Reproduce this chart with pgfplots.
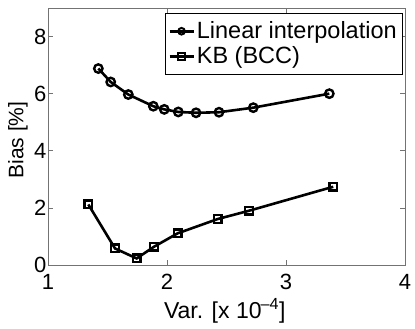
\documentclass[border=0pt]{standalone}
\usepackage{fontspec}
\setmainfont{Liberation Sans}
\usepackage{pgfplots}
\pgfplotsset{compat=1.18}
\begin{document}
\begin{tikzpicture}
\begin{axis}[
  scale only axis,
  width=357bp, height=257bp,
  xmin=1, xmax=4, ymin=0, ymax=9,
  xtick={1,2,3,4}, ytick={0,2,4,6,8},
  tick align=inside,
  major tick length=5bp,
  axis line style={draw=black!55, line width=0.7pt},
  every tick/.style={draw=black!55, line width=0.7pt},
  /pgf/number format/assume math mode=true,
  ticklabel style={font=\fontsize{22bp}{25bp}\selectfont},
  xticklabel style={anchor=base, yshift=-24bp},
  yticklabel style={anchor=east, inner xsep=0pt, xshift=-1.5bp},
  xlabel={Var. [x 10\textsuperscript{\kern-1pt--4}]},
  ylabel={Bias [\%]},
  xlabel style={font=\fontsize{23bp}{26bp}\selectfont, at={(axis description cs:0.495,0)}, anchor=base, yshift=-53bp},
  ylabel style={font=\fontsize{21bp}{24bp}\selectfont, at={(axis description cs:0,0.486)}, anchor=center, yshift=30bp},
  legend style={at={(1,1)}, anchor=north east, xshift=-3bp, yshift=-5bp,
    draw=black, line width=0.5pt,
    font=\fontsize{23.5bp}{26bp}\selectfont, inner xsep=3bp, inner ysep=5.5bp,
    nodes={inner xsep=2bp, inner ysep=1.5bp, text height=18bp, text depth=4bp}, row sep=0bp,
    legend cell align=left},
  legend image code/.code={\draw[mark repeat=2,mark phase=2,#1, mark size=3.3bp, mark options={line width=2bp}] plot coordinates {(0bp,0bp) (12bp,0bp) (24bp,0bp)};},
]
\addplot[black, line width=2.6bp, mark=o, mark size=4.2bp, mark options={fill=white, line width=2.4bp}]
coordinates {
(1.423,6.88) (1.527,6.41) (1.675,5.97) (1.885,5.56) (1.977,5.45)
(2.095,5.36) (2.244,5.33) (2.437,5.35) (2.725,5.51) (3.364,6.00)
};
\addlegendentry{Linear interpolation}
\addplot[black, line width=2.6bp, mark=square, mark size=3.8bp, mark options={fill=white, line width=2.4bp}]
coordinates {
(1.339,2.12) (1.563,0.58) (1.745,0.23) (1.891,0.64) (2.090,1.11)
(2.426,1.61) (2.689,1.90) (3.397,2.74)
};
\addlegendentry{KB (BCC)}
\end{axis}
\pgfresetboundingbox
\path[use as bounding box] ([xshift=-48bp,yshift=-64bp]current axis.south west) rectangle ([xshift=10bp,yshift=8bp]current axis.north east);
\end{tikzpicture}
\end{document}
